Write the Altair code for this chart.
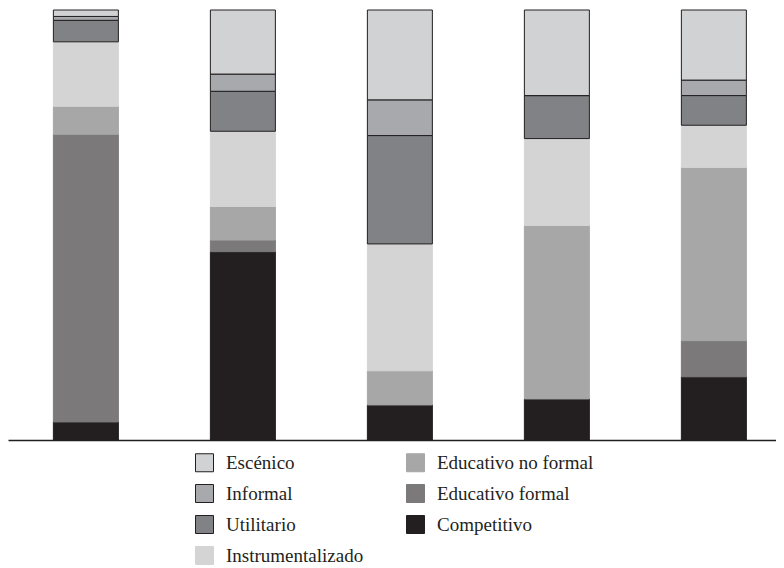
import altair as alt
import pandas as pd

groups = ["1", "2", "3", "4", "5"]
categories = ["Competitivo", "Educativo formal", "Educativo no formal",
              "Instrumentalizado", "Utilitario", "Informal", "Escénico"]
values = {
    "Competitivo":         [4.2, 43.8, 8.2, 9.6, 14.7],
    "Educativo formal":    [66.9, 2.7, 0.0, 0.0, 8.4],
    "Educativo no formal": [6.5, 7.8, 7.9, 40.3, 40.3],
    "Instrumentalizado":   [15.0, 17.5, 29.5, 20.2, 9.8],
    "Utilitario":          [5.0, 9.3, 25.2, 10.0, 6.9],
    "Informal":            [0.9, 4.0, 8.3, 0.0, 3.6],
    "Escénico":            [1.5, 14.9, 20.9, 19.9, 16.3],
}
legend_order = ["Escénico", "Informal", "Utilitario", "Instrumentalizado",
                "Educativo no formal", "Educativo formal", "Competitivo"]
fill_colors = ["#d1d2d4", "#a7a9ac", "#808285", "#d4d4d4",
               "#a7a7a7", "#7b7979", "#231f20"]
stroke_colors = ["#231f20", "#231f20", "#231f20", "#d4d4d4",
                 "#a7a7a7", "#7b7979", "#231f20"]

rows = []
for ci, cat in enumerate(categories):
    for gi, g in enumerate(groups):
        rows.append({"grupo": g, "categoria": cat, "valor": values[cat][gi], "orden": ci})
df = pd.DataFrame(rows)

legend = alt.Legend(
    title=None, orient="none", legendX=187, legendY=443, columns=2,
    symbolType="square", symbolSize=324, symbolStrokeWidth=1,
    labelFont="Liberation Serif", labelFontSize=19, labelColor="#231f20",
    labelOffset=12, columnPadding=40, rowPadding=8, padding=0, labelLimit=300,
)

chart = alt.Chart(df).mark_bar(strokeWidth=1).encode(
    x=alt.X("grupo:N", sort=groups,
            scale=alt.Scale(paddingInner=0.586, paddingOuter=0.2389, align=0.605),
            axis=alt.Axis(labels=False, ticks=False, title=None, domainColor="#231f20",
                          domainWidth=1.5)),
    y=alt.Y("valor:Q", stack="zero", scale=alt.Scale(domain=[0, 100], nice=False),
            axis=None),
    fill=alt.Fill("categoria:N", scale=alt.Scale(domain=legend_order, range=fill_colors),
                  legend=legend),
    stroke=alt.Stroke("categoria:N", scale=alt.Scale(domain=legend_order, range=stroke_colors),
                      legend=legend),
    order=alt.Order("orden:Q", sort="ascending"),
).properties(
    width=768, height=430,
    padding={"left": 0, "top": 1, "right": 0, "bottom": 0},
).configure_view(stroke=None)

chart.save("out.html", embed_options={"renderer": "svg", "actions": False})
